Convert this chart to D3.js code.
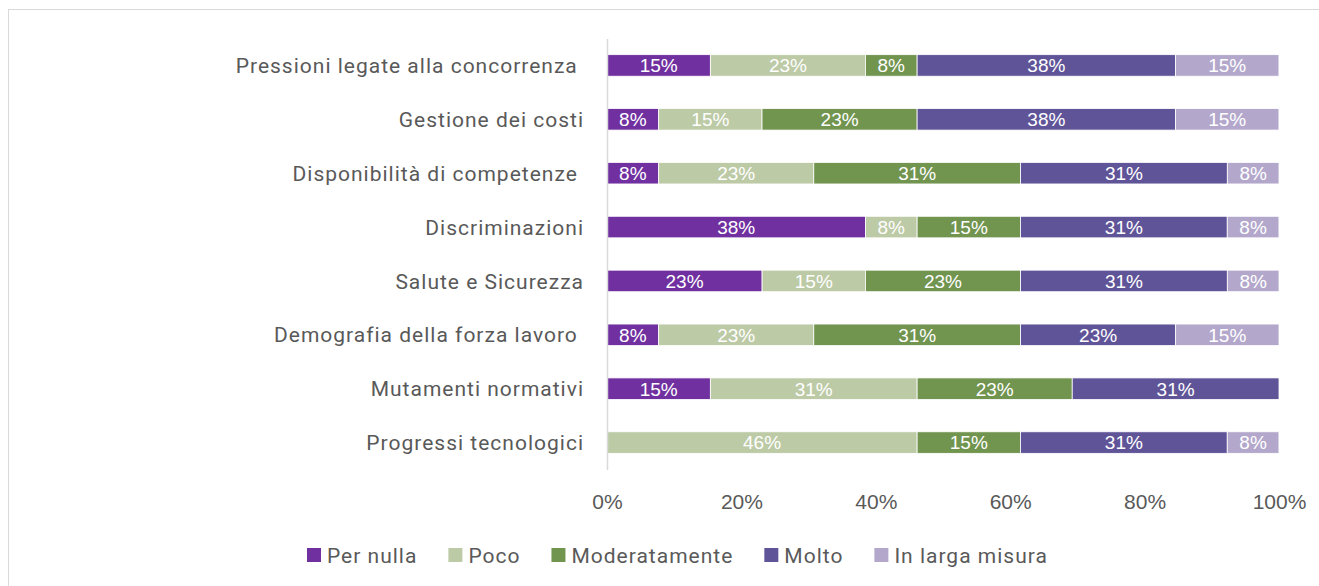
<!DOCTYPE html>
<html>
<head>
<meta charset="utf-8">
<script src="https://cdn.jsdelivr.net/npm/d3@7"></script>
<style>
  body { margin: 0; background: #fff; }
  svg { display: block; }
</style>
</head>
<body>
<script>
// data: share of answers per category (13 respondents), in percent
var categories = ["Pressioni legate alla concorrenza ", "Gestione dei costi", "Disponibilità di competenze ",
                  "Discriminazioni", "Salute e Sicurezza", "Demografia della forza lavoro ",
                  "Mutamenti normativi", "Progressi tecnologici"];
var seriesNames = ["Per nulla", "Poco", "Moderatamente", "Molto", "In larga misura"];
var perNulla      = [15.38, 7.69, 7.69, 38.46, 23.08, 7.69, 15.38, 0];
var poco          = [23.08, 15.38, 23.08, 7.69, 15.38, 23.08, 30.77, 46.15];
var moderatamente = [7.69, 23.08, 30.77, 15.38, 23.08, 30.77, 23.08, 15.38];
var molto         = [38.46, 38.46, 30.77, 30.77, 30.77, 23.08, 30.77, 30.77];
var inLargaMisura = [15.38, 15.38, 7.69, 7.69, 7.69, 15.38, 0, 7.69];
var tickValues = [0, 20, 40, 60, 80, 100];
var colors = ["#7030a0", "#bdcaa6", "#71944f", "#5f5498", "#b3a8cb"];

var W = 1319, H = 586;
var svg = d3.select("body").append("svg").attr("width", W).attr("height", H);

// chart frame
svg.append("rect").attr("x", 8.5).attr("y", 9.5).attr("width", 1330).attr("height", 600)
   .attr("fill", "none").attr("stroke", "#d9d9d9").attr("stroke-width", 1);

var rows = categories.map(function(c, i) {
  return {cat: c, "Per nulla": perNulla[i], "Poco": poco[i], "Moderatamente": moderatamente[i],
          "Molto": molto[i], "In larga misura": inLargaMisura[i]};
});
var stacked = d3.stack().keys(seriesNames)(rows);

var x = d3.scaleLinear().domain([0, 100]).range([607, 1279]);
var y = d3.scaleBand().domain(categories).range([38.5, 469.5]).paddingInner(0.6).paddingOuter(0.3);
var color = d3.scaleOrdinal().domain(seriesNames).range(colors);

var labelFont = "Roboto, 'Liberation Sans', sans-serif";
var numFont = "'Liberation Sans', Arial, sans-serif";

// bars
var layers = svg.append("g").selectAll("g").data(stacked).enter().append("g")
   .attr("fill", function(d) { return color(d.key); });
layers.selectAll("rect").data(function(d) { return d; }).enter()
   .filter(function(d) { return d[1] - d[0] > 0; })
   .append("rect")
   .attr("x", function(d) { return x(d[0]); })
   .attr("y", function(d) { return y(d.data.cat); })
   .attr("width", function(d) { return x(d[1]) - x(d[0]); })
   .attr("height", y.bandwidth())
   .attr("stroke", "#fff").attr("stroke-width", 0.8);

// data labels
layers.selectAll("text").data(function(d) { return d; }).enter()
   .filter(function(d) { return d[1] - d[0] > 0; })
   .append("text")
   .attr("x", function(d) { return (x(d[0]) + x(d[1])) / 2; })
   .attr("y", function(d) { return y(d.data.cat) + y.bandwidth() / 2; })
   .attr("dy", "0.36em")
   .attr("text-anchor", "middle")
   .attr("fill", "#fff")
   .style("font-family", numFont)
   .style("font-size", "19px")
   .text(function(d) { return Math.round(d[1] - d[0]) + "%"; });

// vertical axis line + category labels
var yAxis = svg.append("g").attr("transform", "translate(607,0)")
   .call(d3.axisLeft(y).tickSize(0).tickPadding(24));
yAxis.select(".domain").attr("stroke", "#d9d9d9").attr("stroke-width", 1.5);
yAxis.selectAll("text").attr("fill", "#595959").attr("x", -23).attr("dy", "0.36em")
   .style("font-family", labelFont).style("font-size", "21px")
   .style("letter-spacing", "1px").style("white-space", "pre");

// x axis labels
var xAxis = svg.append("g").attr("transform", "translate(0,470)")
   .call(d3.axisBottom(x).tickValues(tickValues).tickSize(0).tickPadding(0)
         .tickFormat(function(d) { return d + "%"; }));
xAxis.select(".domain").remove();
xAxis.selectAll("text").attr("fill", "#595959").attr("y", 39).attr("dy", null)
   .style("font-family", numFont).style("font-size", "21px");

// legend: square, label, then the next item
var legend = svg.append("g").attr("transform", "translate(0,548)");
var lx = 307;
seriesNames.forEach(function(name) {
  legend.append("rect").attr("x", lx).attr("y", 0).attr("width", 14).attr("height", 14).attr("fill", color(name));
  var t = legend.append("text").attr("x", lx + 20).attr("y", 15).attr("fill", "#595959")
     .style("font-family", labelFont).style("font-size", "21px").style("letter-spacing", "1px").text(name);
  lx += 20 + t.node().getComputedTextLength() + 31;
});
</script>
</body>
</html>
